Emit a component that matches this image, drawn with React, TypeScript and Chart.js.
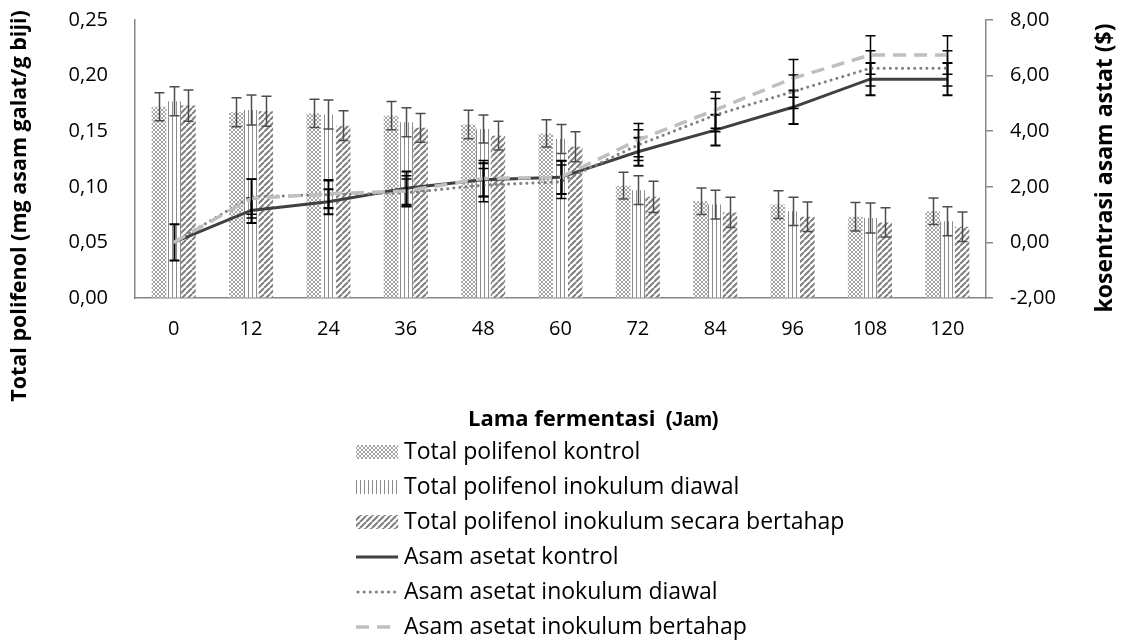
import React, { useEffect, useRef } from 'react';
import { Chart, registerables } from 'chart.js';

Chart.register(...registerables);

// ---------- DATA ----------
const categories = ['0', '12', '24', '36', '48', '60', '72', '84', '96', '108', '120'];

const polifenolKontrol = [0.172, 0.167, 0.166, 0.164, 0.156, 0.148, 0.101, 0.087, 0.084, 0.073, 0.078];
const polifenolDiawal = [0.177, 0.169, 0.165, 0.158, 0.152, 0.143, 0.097, 0.084, 0.078, 0.072, 0.069];
const polifenolBertahap = [0.173, 0.168, 0.155, 0.153, 0.146, 0.136, 0.091, 0.077, 0.073, 0.068, 0.064];

const errPolifenolKontrol = [0.0125, 0.013, 0.0127, 0.0128, 0.0128, 0.0123, 0.012, 0.012, 0.0125, 0.0128, 0.012];
const errPolifenolDiawal = [0.013, 0.0135, 0.013, 0.013, 0.0125, 0.013, 0.013, 0.013, 0.0127, 0.0135, 0.013];
const errPolifenolBertahap = [0.014, 0.0135, 0.0133, 0.013, 0.013, 0.0135, 0.014, 0.0137, 0.0133, 0.0132, 0.0133];

const asetatKontrol = [0.0, 1.15, 1.46, 1.95, 2.25, 2.34, 3.26, 4.04, 4.86, 5.87, 5.87];
const asetatDiawal = [0.0, 1.64, 1.72, 1.78, 2.06, 2.18, 3.5, 4.58, 5.42, 6.26, 6.26];
const asetatBertahap = [0.0, 1.58, 1.75, 1.85, 2.3, 2.34, 3.68, 4.76, 5.9, 6.74, 6.74];

const errAsetatKontrol = [0.65, 0.45, 0.45, 0.6, 0.6, 0.6, 0.5, 0.55, 0.6, 0.58, 0.58];
const errAsetatDiawal = [0, 0.63, 0.5, 0.5, 0.6, 0.6, 0.55, 0.6, 0.6, 0.63, 0.63];
const errAsetatBertahap = [0, 0.7, 0.5, 0.55, 0.65, 0.6, 0.6, 0.65, 0.68, 0.69, 0.69];

const leftTicks = [0, 0.05, 0.1, 0.15, 0.2, 0.25];
const rightTicks = [-2, 0, 2, 4, 6, 8];

const seriesLabels = [
  'Total polifenol kontrol',
  'Total polifenol inokulum diawal',
  'Total polifenol inokulum secara bertahap',
  'Asam asetat kontrol',
  'Asam asetat inokulum diawal',
  'Asam asetat inokulum bertahap',
];

const yLeftTitle = 'Total polifenol (mg asam galat/g biji)';
const yRightTitle = 'kosentrasi asam astat ($)';
const xTitleMain = 'Lama fermentasi';
const xTitleUnit = '(Jam)';

// ---------- STYLE ----------
const FONT = '"Open Sans", Lato, sans-serif';
const AXIS_COLOR = '#868686';

function makePattern(kind: string): CanvasPattern | string {
  const c = document.createElement('canvas');
  const ctx = c.getContext('2d');
  if (!ctx) return '#aaa';
  if (kind === 'cross') {
    c.width = 4; c.height = 4;
    ctx.fillStyle = '#ffffff'; ctx.fillRect(0, 0, 4, 4);
    ctx.fillStyle = '#a4a4a4';
    for (let i = 0; i < 4; i++) { ctx.fillRect(i, i, 1, 1); ctx.fillRect(3 - i, i, 1, 1); }
  } else if (kind === 'vert') {
    c.width = 4; c.height = 4;
    ctx.fillStyle = '#ffffff'; ctx.fillRect(0, 0, 4, 4);
    ctx.fillStyle = '#8c8c8c'; ctx.fillRect(0, 0, 1, 4);
  } else {
    c.width = 6; c.height = 6;
    ctx.fillStyle = '#ffffff'; ctx.fillRect(0, 0, 6, 6);
    ctx.strokeStyle = '#7f7f7f'; ctx.lineWidth = 2;
    ctx.beginPath();
    for (const o of [-6, 0, 6]) { ctx.moveTo(o, 6); ctx.lineTo(o + 6, 0); }
    ctx.stroke();
  }
  return ctx.createPattern(c, 'repeat') as CanvasPattern;
}

const errorBarPlugin = {
  id: 'errorBars',
  afterDatasetDraw(chart: any, args: any) {
    const ds: any = chart.data.datasets[args.index];
    const errs: number[] | undefined = ds.errors;
    if (!errs) return;
    const meta = args.meta;
    const scale = chart.scales[meta.yAxisID];
    const ctx = chart.ctx;
    ctx.save();
    ctx.strokeStyle = ds.errorColor;
    ctx.lineWidth = ds.errorWidth;
    meta.data.forEach((el: any, i: number) => {
      const e = errs[i];
      if (!e) return;
      const v = ds.data[i] as number;
      const x = Math.round(el.x) + 0.5;
      const yTop = scale.getPixelForValue(v + e);
      const yBot = scale.getPixelForValue(v - e);
      const cap = ds.errorCap;
      ctx.beginPath();
      ctx.moveTo(x, yTop); ctx.lineTo(x, yBot);
      ctx.moveTo(x - cap, yTop); ctx.lineTo(x + cap, yTop);
      ctx.moveTo(x - cap, yBot); ctx.lineTo(x + cap, yBot);
      ctx.stroke();
    });
    ctx.restore();
  },
};

const decorPlugin = {
  id: 'decor',
  afterDraw(chart: any) {
    const ctx = chart.ctx;
    const ca = chart.chartArea;
    const ds = chart.data.datasets;
    ctx.save();
    ctx.fillStyle = '#000';
    ctx.textBaseline = 'middle';

    // left axis title
    ctx.save();
    ctx.translate(ca.left - 115, ca.bottom - 92);
    ctx.rotate(-Math.PI / 2);
    ctx.textAlign = 'center';
    ctx.font = `bold 21.5px ${FONT}`;
    ctx.fillText(yLeftTitle, 0, 0);
    ctx.restore();

    // right axis title
    ctx.save();
    ctx.translate(ca.right + 119, (ca.top + ca.bottom) / 2 + 9);
    ctx.rotate(-Math.PI / 2);
    ctx.textAlign = 'center';
    ctx.font = `bold 23px ${FONT}`;
    ctx.fillText(yRightTitle, 0, 0);
    ctx.restore();

    // x axis title
    const tx = ca.left + 333;
    const ty = ca.bottom + 122;
    ctx.textAlign = 'left';
    ctx.font = `bold 22px ${FONT}`;
    ctx.fillText(xTitleMain, tx, ty);
    const w = ctx.measureText(xTitleMain).width;
    ctx.font = 'bold 20px "Liberation Sans", Arial, sans-serif';
    ctx.fillText(xTitleUnit, tx + w + 10, ty);

    // legend
    const lx = ca.left + 221;
    const symW = 42;
    const textX = lx + 48;
    const y0 = ca.bottom + 154;
    const step = 35;
    ctx.font = `23px ${FONT}`;
    for (let i = 0; i < ds.length; i++) {
      const d: any = ds[i];
      const y = y0 + i * step;
      if (d.type === 'bar') {
        ctx.fillStyle = d.backgroundColor;
        ctx.fillRect(lx, y - 7, symW, 14);
      } else {
        ctx.save();
        ctx.strokeStyle = d.borderColor;
        ctx.lineWidth = d.borderWidth;
        ctx.lineCap = d.borderCapStyle || 'butt';
        ctx.setLineDash(d.borderDash || []);
        ctx.beginPath();
        ctx.moveTo(lx + (d.legendStart || 0), y);
        ctx.lineTo(lx + symW, y);
        ctx.stroke();
        ctx.restore();
      }
      ctx.fillStyle = '#000';
      ctx.fillText(seriesLabels[i], textX, y);
    }
    ctx.restore();
  },
};

const fmt = (v: number) => v.toFixed(2).replace('.', ',');

export default function App() {
  const ref = useRef<HTMLCanvasElement | null>(null);

  useEffect(() => {
    if (!ref.current) return;
    const pCross = makePattern('cross');
    const pVert = makePattern('vert');
    const pDiag = makePattern('diag');

    const barCommon = {
      type: 'bar' as const,
      yAxisID: 'y',
      borderWidth: 0,
      categoryPercentage: 0.57,
      barPercentage: 1.0,
      order: 10,
      errorColor: '#4d4d4d',
      errorWidth: 1.5,
      errorCap: 5,
    };
    const lineCommon = {
      type: 'line' as const,
      yAxisID: 'y1',
      fill: false,
      tension: 0,
      pointRadius: 0,
      pointHoverRadius: 0,
      errorColor: '#000000',
      errorWidth: 1.5,
      errorCap: 5,
    };

    const chart = new Chart(ref.current, {
      type: 'bar',
      data: {
        labels: categories,
        datasets: [
          { ...barCommon, label: seriesLabels[0], data: polifenolKontrol, backgroundColor: pCross, errors: errPolifenolKontrol },
          { ...barCommon, label: seriesLabels[1], data: polifenolDiawal, backgroundColor: pVert, errors: errPolifenolDiawal },
          { ...barCommon, label: seriesLabels[2], data: polifenolBertahap, backgroundColor: pDiag, errors: errPolifenolBertahap },
          { ...lineCommon, label: seriesLabels[3], data: asetatKontrol, borderColor: '#404040', borderWidth: 3, order: 3, errors: errAsetatKontrol, errorWidth: 2 },
          { ...lineCommon, label: seriesLabels[4], data: asetatDiawal, borderColor: '#808080', borderWidth: 3, borderDash: [0.1, 6], borderCapStyle: 'round', order: 2, errors: errAsetatDiawal, legendStart: 2 },
          { ...lineCommon, label: seriesLabels[5], data: asetatBertahap, borderColor: '#bfbfbf', borderWidth: 3.5, borderDash: [13, 8], order: 1, errors: errAsetatBertahap },
        ] as any,
      },
      options: {
        responsive: false,
        animation: false,
        devicePixelRatio: 1,
        layout: { padding: { top: 20, left: 0, right: 0, bottom: 0 } },
        plugins: {
          legend: { display: false },
          tooltip: { enabled: false },
          title: { display: false },
        },
        scales: {
          x: {
            type: 'category',
            offset: true,
            grid: { display: true, drawOnChartArea: false, drawTicks: false },
            border: { display: true, color: AXIS_COLOR, width: 1.5 },
            ticks: { color: '#000', font: { family: FONT, size: 20 }, padding: 19, maxRotation: 0 },
            afterFit: (s: any) => { s.height = 346; s.paddingLeft = 0; s.paddingRight = 0; },
          },
          y: {
            type: 'linear',
            position: 'left',
            min: leftTicks[0],
            max: leftTicks[leftTicks.length - 1],
            afterBuildTicks: (s: any) => { s.ticks = leftTicks.map((v) => ({ value: v })); },
            grid: { display: true, drawOnChartArea: false, drawTicks: false },
            border: { display: true, color: AXIS_COLOR, width: 1.5 },
            ticks: { color: '#000', font: { family: FONT, size: 20 }, padding: 27, callback: (v: any) => fmt(Number(v)) },
            afterFit: (s: any) => { s.width = 135; s.paddingTop = 0; s.paddingBottom = 0; },
          },
          y1: {
            type: 'linear',
            position: 'right',
            min: rightTicks[0],
            max: rightTicks[rightTicks.length - 1],
            afterBuildTicks: (s: any) => { s.ticks = rightTicks.map((v) => ({ value: v })); },
            grid: { display: true, drawOnChartArea: false, drawTicks: true, tickLength: 7, color: AXIS_COLOR, lineWidth: 1.5 },
            border: { display: true, color: AXIS_COLOR, width: 1.5 },
            ticks: { color: '#000', font: { family: FONT, size: 20 }, padding: 17, callback: (v: any) => fmt(Number(v)) },
            afterFit: (s: any) => { s.width = 137; s.paddingTop = 0; s.paddingBottom = 0; },
          },
        },
      } as any,
      plugins: [errorBarPlugin, decorPlugin],
    });
    return () => chart.destroy();
  }, []);

  return (
    <div style={{ position: 'fixed', left: 0, top: 0, width: 1123, height: 644, background: '#fff' }}>
      <canvas ref={ref} width={1123} height={644} style={{ display: 'block' }} />
    </div>
  );
}
